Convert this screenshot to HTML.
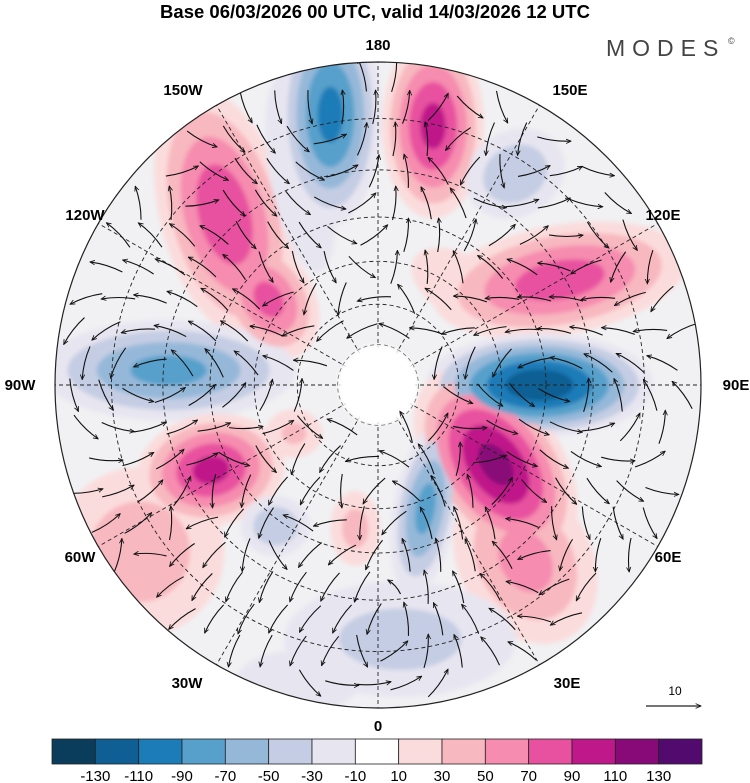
<!DOCTYPE html>
<html><head><meta charset="utf-8"><style>
body{margin:0;background:#fff;width:750px;height:783px;overflow:hidden;font-family:"Liberation Sans",sans-serif}
svg{display:block}
</style></head><body>
<svg id="chart" width="750" height="783" viewBox="0 0 750 783" xmlns="http://www.w3.org/2000/svg">
<defs>
<clipPath id="disk"><circle cx="378" cy="385" r="323"/></clipPath>
<filter id="soft" x="-20%" y="-20%" width="140%" height="140%"><feGaussianBlur stdDeviation="2"/></filter>
<marker id="ah" viewBox="0 0 10 10" refX="9" refY="5" markerWidth="5" markerHeight="5" orient="auto"><path d="M0,1 L9,5 L0,9" fill="none" stroke="#111" stroke-width="1.5"/></marker>
</defs>
<text x="375" y="18" text-anchor="middle" font-size="18.5" font-weight="bold">Base 06/03/2026 00 UTC, valid 14/03/2026 12 UTC</text>
<text x="606" y="56" font-size="23" letter-spacing="7" fill="#444">MODES</text>
<text x="728" y="44" font-size="9" fill="#444">©</text>
<g id="mapg" clip-path="url(#disk)">
<circle cx="378" cy="385" r="323" fill="#f1f1f3"/>
<g id="fields" filter="url(#soft)"></g>
<g id="grid"></g>
<circle cx="378" cy="385" r="40" fill="#fff" filter="url(#soft)"/>
<g id="vectors"></g>
</g>
<circle cx="378" cy="385" r="323" fill="none" stroke="#222" stroke-width="1.2"/>
<g id="lonlabels" font-size="15" font-weight="bold"></g>
<g>
<text x="675" y="695" font-size="12" text-anchor="middle">10</text>
<line x1="646" y1="706" x2="701" y2="706" stroke="#222" stroke-width="1.2" marker-end="url(#ah)"/>
</g>
<g id="colorbar"></g>
</svg>
<script>
const NS="http://www.w3.org/2000/svg";
const levels=[-130,-110,-90,-70,-50,-30,-10,10,30,50,70,90,110,130];
const colors=["#0a3d5c","#0f5f94","#1b7cb8","#56a0cb","#95b8d9","#c4cde3","#e7e5f0","#ffffff","#fbdcdc","#f8b8c0","#f68caf","#e8519f","#bf188a","#880a78","#530a6e"];
// anomaly centres: longitude (deg, E positive), radial fraction, value
const blobLon=[-170,168,147,-138,-128,120,90,-94,56,40,-63,-55,21,-36,-9,5,-60,-15,140,-160];
const blobRad=[0.85,0.82,0.78,0.71,0.43,0.65,0.50,0.65,0.44,0.71,0.58,0.90,0.41,0.54,0.45,0.79,0.30,0.95,0.40,0.70];
const blobVal=[-95,95,-45,85,75,80,-125,-75,115,55,95,40,-75,-45,35,-35,30,-25,25,-25];
// shape (semi-axes in px, rotation deg)
const blobRx=[55,55,60,70,50,140,120,140,70,75,80,100,35,40,30,140,35,80,70,40];
const blobRy=[120,100,50,140,70,60,55,55,115,100,60,100,95,35,45,70,30,40,40,130];
const blobRot=[0,0,-30,-15,-30,-10,0,0,-35,-30,-10,0,10,0,0,0,0,0,30,-10];
const cx=378,cy=385,R=323;
function pos(lon,f){const a=lon*Math.PI/180;return [cx+R*f*Math.sin(a),cy+R*f*Math.cos(a)];}
function colorFor(thr,sign){const i=levels.indexOf(sign*thr);return sign>0?colors[i+1]:colors[i];}
const fields=document.getElementById('fields');
const thrs=[10,30,50,70,90,110,130];
thrs.forEach(t=>{
  blobVal.forEach((v,i)=>{
    const av=Math.abs(v);if(av<t)return;
    const s=Math.pow(1-t/(av+10),0.75);
    const [x,y]=pos(blobLon[i],blobRad[i]);
    const e=document.createElementNS(NS,'ellipse');
    
    
    e.setAttribute('cx',x);e.setAttribute('cy',y);
    e.setAttribute('rx',blobRx[i]*s);e.setAttribute('ry',blobRy[i]*s);
    e.setAttribute('transform',`rotate(${blobRot[i]} ${x} ${y})`);
    e.setAttribute('fill',colorFor(t,v>0?1:-1));
    fields.appendChild(e);
  });
});
// graticule
const grid=document.getElementById('grid');
[0.125,0.25,0.383,0.52,0.666,0.825].forEach(f=>{
  const c=document.createElementNS(NS,'circle');
  
  
  c.setAttribute('cx',cx);c.setAttribute('cy',cy);c.setAttribute('r',R*f);
  c.setAttribute('fill','none');c.setAttribute('stroke','#222');c.setAttribute('stroke-width','0.9');c.setAttribute('stroke-dasharray','4 3');
  grid.appendChild(c);
});
for(let lon=0;lon<360;lon+=30){
  const [x,y]=pos(lon,1);
  const l=document.createElementNS(NS,'line');
  
  
  l.setAttribute('x1',cx);l.setAttribute('y1',cy);l.setAttribute('x2',x);l.setAttribute('y2',y);
  l.setAttribute('stroke','#222');l.setAttribute('stroke-width','0.9');l.setAttribute('stroke-dasharray','4 3');
  grid.appendChild(l);
}
// wind vectors from rotational field of anomalies
const vg=document.getElementById('vectors');
for(let gy=75;gy<705;gy+=32){for(let gx=70;gx<700;gx+=32){
  const px=gx+((gy/32)%2)*12,py=gy;
  if(Math.hypot(px-cx,py-cy)>R-12||Math.hypot(px-cx,py-cy)<50)continue;
  let u=0,w=0;
  blobVal.forEach((v,i)=>{const [x,y]=pos(blobLon[i],blobRad[i]);const dx=px-x,dy=py-y;const sc=Math.max(blobRx[i],blobRy[i])*0.8;const d2=(dx*dx+dy*dy)/(sc*sc);const k=v*Math.exp(-d2)/sc;u+=-dy*k;w+=dx*k;});
  const m=Math.hypot(u,w);if(m<0.3)continue;
  const L=Math.min(34,10+m*9);const ux=u/m,uy=w/m;
  const p=document.createElementNS(NS,'path');
  
  
  const x0=px-ux*L/2,y0=py-uy*L/2,x1=px+ux*L/2,y1=py+uy*L/2;
  p.setAttribute('d',`M${x0},${y0} Q${px-uy*3},${py+ux*3} ${x1},${y1}`);
  p.setAttribute('fill','none');p.setAttribute('stroke','#111');p.setAttribute('stroke-width','1.1');p.setAttribute('marker-end','url(#ah)');
  vg.appendChild(p);
}}
// longitude labels
const lonLabels=["180","150W","120W","90W","60W","30W","0","30E","60E","90E","120E","150E"];
const lonLabelPos=[[378,50],[183,95],[85,220],[20,390],[80,562],[187,688],[378,731],[567,688],[668,562],[736,390],[663,220],[570,95]];
const lg=document.getElementById('lonlabels');
lonLabels.forEach((t,i)=>{const e=document.createElementNS(NS,'text');
  
  
  e.setAttribute('x',lonLabelPos[i][0]);e.setAttribute('y',lonLabelPos[i][1]);e.setAttribute('text-anchor','middle');e.textContent=t;lg.appendChild(e);});
// colorbar
const cb=document.getElementById('colorbar');const bx=52,bw=650/colors.length;
colors.forEach((c,i)=>{const r=document.createElementNS(NS,'rect');
  
  
  r.setAttribute('x',bx+i*bw);r.setAttribute('y',739);r.setAttribute('width',bw);r.setAttribute('height',25);r.setAttribute('fill',c);r.setAttribute('stroke','#222');r.setAttribute('stroke-width','0.8');cb.appendChild(r);});
levels.forEach((l,i)=>{const t=document.createElementNS(NS,'text');
  
  
  t.setAttribute('x',bx+(i+1)*bw);t.setAttribute('y',781);t.setAttribute('text-anchor','middle');t.setAttribute('font-size','15');t.textContent=l;cb.appendChild(t);});
</script>
</body></html>
